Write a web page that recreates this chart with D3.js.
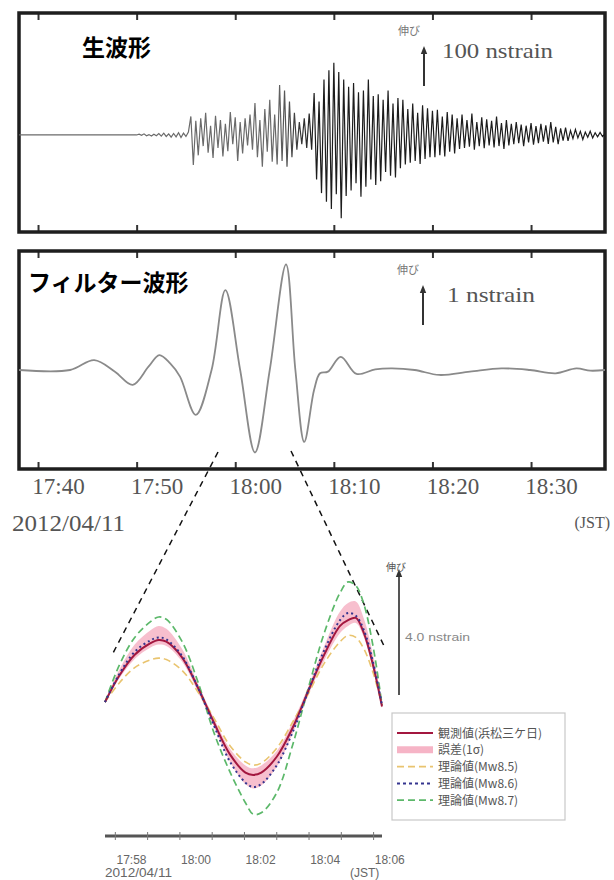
<!DOCTYPE html>
<html>
<head>
<meta charset="utf-8">
<script src="https://cdn.jsdelivr.net/npm/d3@7"></script>
<style>
  body { margin: 0; background: #fff; }
  svg { display: block; }
  .serif { font-family: "Liberation Serif", "DejaVu Serif", serif; }
  .jp { font-family: "Noto Sans CJK JP", "Noto Sans", sans-serif; }
</style>
</head>
<body>
<div id="chart"></div>
<script>
// upper panels: minutes after 17:40
const tickMins = [0, 10, 20, 30, 40, 50];
const tickLabels = ['17:40', '17:50', '18:00', '18:10', '18:20', '18:30'];

// raw strain (nstrain), one value every 15 s starting 17:50
const rawStart = 10;
const rawStep = 0.25;
const rawVals = [
  0, 2, -1, 3, -2, 1, -3, 2, -2, 4, -3, 5, -4, 3, -6, 4, -5, 6, -7, 5,
  -4, 8, 50, -81,
  38, -55, 45, -30, 60, -48, 25, -62, 52, -35, 40, -58, 30, -44, 62, -25, 48, -70, 35, -50, 45, -28, 55, -40,
  86, -60, 40, -86, 70, -45, 95, -72, 55, -80, 135, -70, 120, -86, 90, -60,
  60, -40, 35, -25, 45, -35, 58, -40,
  113, -120, 90, -157, 150, -180, 175, -200, 195, -160, 170, -225,
  150, -165, 130, -150, 140, -130, 115, -167, 120, -140, 150, -120, 105, -135,
  110, -125, 95, -100, 120, -110, 85, -115, 100, -90,
  95, -80, 70, -75, 85, -70, 60, -78, 80, -65, 72, -60, 65,
  -60, 68, -55, 50, -58, 62, -45, 55, -50,
  45, -38, 55, -35, 40, -32, 58, -40, 35, -30, 48, -36, 42, -28, 38, -34, 50, -30, 32, -38, 40, -28,
  30, -25, 35, -22, 28, -30, 25, -20, 32, -26, 24, -22, 30, -18, 26, -24, 35, -20, 22, -25, 18, -15, 20, -16,
  12, -10, 15, -8, 10, -12, 8, -6, 10, -8, 6, -5, 7, -4, 3
];

// filtered strain (nstrain)
const filtT = [-1.93, 3.25, 5.7, 7.8, 9.6, 11.2, 12.3, 13.4, 14.4, 16.0, 17.6, 19.0, 20.5, 22.0, 23.5, 25.15,
  26.1, 27.0, 28.0, 28.6, 29.4, 30.7, 32.3, 34.2, 35.9, 38.2, 40.7, 43.8, 47.0, 49.9, 52.5, 54.6, 56.0, 57.5];
const filtV = [0, 0, 0.3, -0.05, -0.45, 0.1, 0.45, 0.2, -0.2, -1.36, 0, 2.42, 0, -2.5, 0, 3.2,
  0, -2.18, -0.6, -0.1, -0.05, 0.4, -0.12, 0.02, 0.05, 0, -0.15, -0.05, 0.05, 0, -0.1, 0.05, -0.02, 0];

// zoomed comparison: minutes after 18:00
const zoomT = [-2.82, -2.39, -1.90, -1.41, -1.16, -0.92, -0.43, 0.06, 0.55, 1.04, 1.53, 1.77,
  2.02, 2.50, 2.99, 3.48, 3.97, 4.46, 4.71, 4.95, 5.20, 5.49, 5.76];
const obsV = [0.1, 1.0, 1.75, 2.15, 2.26, 2.2, 1.65, 0.6, -0.6, -1.7, -2.35, -2.43,
  -2.35, -1.8, -0.8, 0.5, 1.75, 2.75, 2.95, 3.03, 2.5, 1.35, -0.05];
const errHi = [0.15, 1.2, 2.1, 2.6, 2.75, 2.65, 1.95, 0.75, -0.45, -1.5, -2.1, -2.2,
  -2.1, -1.6, -0.6, 0.65, 2.05, 3.25, 3.55, 3.6, 3.0, 1.7, 0.05];
const errLo = [0.05, 0.9, 1.6, 2.0, 2.1, 2.05, 1.5, 0.45, -0.75, -1.95, -2.75, -2.9,
  -2.8, -2.15, -1.0, 0.35, 1.55, 2.5, 2.75, 2.85, 2.35, 1.2, -0.1];
const mw85V = [0.1, 0.75, 1.3, 1.57, 1.63, 1.58, 1.2, 0.45, -0.45, -1.4, -1.98, -2.09,
  -2.02, -1.5, -0.6, 0.4, 1.45, 2.2, 2.42, 2.35, 1.95, 1.1, 0.0];
const mw86V = [0.1, 1.05, 1.85, 2.25, 2.35, 2.28, 1.7, 0.6, -0.7, -1.95, -2.7, -2.85,
  -2.75, -2.1, -0.95, 0.5, 1.9, 2.95, 3.2, 3.1, 2.6, 1.45, 0.0];
const mw87V = [0.1, 1.35, 2.35, 2.9, 3.06, 2.98, 2.2, 0.8, -0.95, -2.3, -3.4, -3.8,
  -3.75, -3.05, -1.4, 0.6, 2.5, 3.9, 4.28, 4.15, 3.5, 2.0, 0.0];
const zoomTickMins = [-2.5, -1.5, -0.5, 0.5, 1.5, 2.5, 3.5, 4.5, 5.5];
const zoomLabelMins = [-2, 0, 2, 4, 6];
const zoomLabels = ['17:58', '18:00', '18:02', '18:04', '18:06'];
const legendNames = ['観測値(浜松三ケ日)', '誤差(1σ)', '理論値(Mw8.5)', '理論値(Mw8.6)', '理論値(Mw8.7)'];

const w = 614;
const h = 880;

const svg = d3.select('#chart')
  .append('svg')
  .attr('width', w)
  .attr('height', h);

svg.append('rect').attr('width', w).attr('height', h).attr('fill', '#fff');

const defs = svg.append('defs');
defs.append('marker')
  .attr('id', 'head')
  .attr('viewBox', '0 0 10 10')
  .attr('refX', 5).attr('refY', 5)
  .attr('markerWidth', 4).attr('markerHeight', 5)
  .attr('orient', 'auto')
  .append('path')
  .attr('d', 'M0,1 L10,5 L0,9 Z')
  .attr('fill', '#333');

// ---------- upper panels ----------
const xTop = d3.scaleLinear().domain([-1.93, 57.5]).range([19, 605]);
const yRaw = d3.scaleLinear().domain([-262, 332]).range([232, 12]);
const yFilt = d3.scaleLinear().domain([-3.0, 3.606]).range([469, 251]);

// early arrivals print lighter than the main shaking
const grad = defs.append('linearGradient')
  .attr('id', 'rawInk')
  .attr('gradientUnits', 'userSpaceOnUse')
  .attr('x1', xTop(24)).attr('x2', xTop(28)).attr('y1', 0).attr('y2', 0);
grad.append('stop').attr('offset', 0).attr('stop-color', '#6a6a6a');
grad.append('stop').attr('offset', 1).attr('stop-color', '#1c1c1c');

const addPanel = (id, top, bottom) => {
  defs.append('clipPath').attr('id', id)
    .append('rect')
    .attr('x', xTop.range()[0]).attr('y', top)
    .attr('width', xTop.range()[1] - xTop.range()[0]).attr('height', bottom - top);

  const g = svg.append('g');
  // inward ticks on top and bottom borders
  g.append('g')
    .attr('transform', 'translate(0,' + top + ')')
    .call(d3.axisTop(xTop).tickValues(tickMins).tickSize(-7).tickFormat(''))
    .call(s => s.select('.domain').remove())
    .call(s => s.selectAll('line').attr('stroke', '#333').attr('stroke-width', 2));
  g.append('g')
    .attr('transform', 'translate(0,' + bottom + ')')
    .call(d3.axisBottom(xTop).tickValues(tickMins).tickSize(-7).tickFormat(''))
    .call(s => s.select('.domain').remove())
    .call(s => s.selectAll('line').attr('stroke', '#333').attr('stroke-width', 2));

  g.append('rect')
    .attr('x', xTop.range()[0]).attr('y', top)
    .attr('width', xTop.range()[1] - xTop.range()[0]).attr('height', bottom - top)
    .attr('fill', 'none')
    .attr('stroke', '#1e1e1e')
    .attr('stroke-width', 3.5);
  return g;
};

const rawPts = [[xTop.domain()[0], 0]].concat(rawVals.map((v, i) => [rawStart + i * rawStep, v]));
addPanel('clipRaw', 13, 232);
svg.append('path')
  .datum(rawPts)
  .attr('clip-path', 'url(#clipRaw)')
  .attr('fill', 'none')
  .attr('stroke', 'url(#rawInk)')
  .attr('stroke-width', 1.2)
  .attr('d', d3.line().x(d => xTop(d[0])).y(d => yRaw(d[1])));

addPanel('clipFilt', 251, 469);
svg.append('path')
  .datum(filtT.map((t, i) => [t, filtV[i]]))
  .attr('clip-path', 'url(#clipFilt)')
  .attr('fill', 'none')
  .attr('stroke', '#8a8a8a')
  .attr('stroke-width', 1.8)
  .attr('d', d3.line().curve(d3.curveCatmullRom.alpha(0.5)).x(d => xTop(d[0])).y(d => yFilt(d[1])));

// time labels under the filtered panel
const timeAxis = svg.append('g')
  .attr('transform', 'translate(0,469)')
  .call(d3.axisBottom(xTop).tickValues(tickMins).tickSize(0).tickFormat((d, i) => tickLabels[i]));
timeAxis.select('.domain').remove();
timeAxis.selectAll('text')
  .attr('class', 'serif')
  .attr('font-size', 23)
  .attr('fill', '#555')
  .attr('dx', 20)
  .attr('y', 25)
  .attr('dy', null);

svg.append('text').attr('class', 'serif')
  .attr('x', 12).attr('y', 531)
  .attr('font-size', 23).attr('fill', '#555')
  .attr('textLength', 113).attr('lengthAdjust', 'spacingAndGlyphs')
  .text('2012/04/11');
svg.append('text').attr('class', 'serif')
  .attr('x', 610).attr('y', 528)
  .attr('text-anchor', 'end')
  .attr('font-size', 16).attr('fill', '#555')
  .text('(JST)');

// panel titles
svg.append('text').attr('class', 'jp')
  .attr('x', 82).attr('y', 56)
  .attr('font-size', 23).attr('font-weight', 'bold')
  .text('生波形');
svg.append('text').attr('class', 'jp')
  .attr('x', 28).attr('y', 291)
  .attr('font-size', 23).attr('font-weight', 'bold')
  .text('フィルター波形');

// scale bars
const scaleBar = (x, y0, y1, label, lx, ly, len) => {
  svg.append('text').attr('class', 'jp')
    .attr('x', x - 26).attr('y', y1 - 15)
    .attr('font-size', 11).attr('fill', '#777')
    .text('伸び');
  svg.append('line')
    .attr('x1', x).attr('x2', x)
    .attr('y1', y0).attr('y2', y1)
    .attr('stroke', '#333').attr('stroke-width', 2)
    .attr('marker-end', 'url(#head)');
  svg.append('text').attr('class', 'serif')
    .attr('x', lx).attr('y', ly)
    .attr('font-size', 21).attr('fill', '#555')
    .attr('textLength', len).attr('lengthAdjust', 'spacingAndGlyphs')
    .text(label);
};
scaleBar(424, 86, 50, '100 nstrain', 442, 58, 111);
scaleBar(423, 325, 289, '1 nstrain', 447, 302, 88);

// ---------- zoomed comparison ----------
const xZoom = d3.scaleLinear().domain([-2.82, 5.76]).range([105, 382]);
const yZoom = d3.scaleLinear().domain([-4.5, 4.5]).range([834.4, 575.6]);

// connectors from the filtered trace down to the zoom window
const connectors = [[[218, 452], [112, 655]], [[291, 451], [385, 648]]];
svg.selectAll('.conn')
  .data(connectors)
  .enter()
  .append('line')
  .attr('class', 'conn')
  .attr('x1', d => d[0][0]).attr('y1', d => d[0][1])
  .attr('x2', d => d[1][0]).attr('y2', d => d[1][1])
  .attr('stroke', '#111').attr('stroke-width', 1.5)
  .attr('stroke-dasharray', '6,5');

svg.append('path')
  .datum(zoomT.map((t, i) => [t, errLo[i], errHi[i]]))
  .attr('fill', '#f6b4c6')
  .attr('fill-opacity', 0.85)
  .attr('d', d3.area().curve(d3.curveCatmullRom).x(d => xZoom(d[0])).y0(d => yZoom(d[1])).y1(d => yZoom(d[2])));

const series = [
  { vals: mw85V, color: '#e9c46f', width: 1.6, dash: '7,4' },
  { vals: mw87V, color: '#5cb86a', width: 1.7, dash: '7,4' },
  { vals: obsV, color: '#a3173f', width: 2, dash: null },
  { vals: mw86V, color: '#35358f', width: 2, dash: '2,3' }
];
const zoomLine = d3.line().curve(d3.curveCatmullRom).x(d => xZoom(d[0])).y(d => yZoom(d[1]));
series.forEach(s => {
  svg.append('path')
    .datum(zoomT.map((t, i) => [t, s.vals[i]]))
    .attr('fill', 'none')
    .attr('stroke', s.color)
    .attr('stroke-width', s.width)
    .attr('stroke-dasharray', s.dash)
    .attr('d', zoomLine);
});

// time axis of the zoom window
svg.append('line')
  .attr('x1', xZoom(-2.82)).attr('x2', xZoom(5.76))
  .attr('y1', 836).attr('y2', 836)
  .attr('stroke', '#555').attr('stroke-width', 3);
svg.selectAll('.ztick')
  .data(zoomTickMins)
  .enter()
  .append('line')
  .attr('class', 'ztick')
  .attr('x1', d => xZoom(d)).attr('x2', d => xZoom(d))
  .attr('y1', 832).attr('y2', 840)
  .attr('stroke', '#777').attr('stroke-width', 1);
svg.selectAll('.zlab')
  .data(zoomLabelMins)
  .enter()
  .append('text')
  .attr('class', 'zlab')
  .attr('x', d => xZoom(d))
  .attr('y', 864)
  .attr('text-anchor', 'middle')
  .attr('font-family', 'Liberation Sans, Arial, sans-serif')
  .attr('font-size', 12)
  .attr('fill', '#666')
  .text((d, i) => zoomLabels[i]);
svg.append('text')
  .attr('x', 105).attr('y', 877)
  .attr('font-family', 'Liberation Sans, Arial, sans-serif')
  .attr('font-size', 12).attr('fill', '#666')
  .attr('textLength', 67).attr('lengthAdjust', 'spacingAndGlyphs')
  .text('2012/04/11');
svg.append('text')
  .attr('x', 350).attr('y', 877)
  .attr('font-family', 'Liberation Sans, Arial, sans-serif')
  .attr('font-size', 12).attr('fill', '#666')
  .text('(JST)');

// 4.0 nstrain scale bar
svg.append('line')
  .attr('x1', 399).attr('x2', 399)
  .attr('y1', 695).attr('y2', 573)
  .attr('stroke', '#555').attr('stroke-width', 2)
  .attr('marker-end', 'url(#head)');
svg.append('text').attr('class', 'jp')
  .attr('x', 386).attr('y', 571)
  .attr('font-size', 10).attr('fill', '#555')
  .text('伸び');
svg.append('text')
  .attr('x', 405).attr('y', 641)
  .attr('font-family', 'Liberation Sans, Arial, sans-serif')
  .attr('font-size', 11).attr('fill', '#888')
  .attr('textLength', 65).attr('lengthAdjust', 'spacingAndGlyphs')
  .text('4.0 nstrain');

// legend
const legend = svg.append('g').attr('transform', 'translate(392,713)');
legend.append('rect')
  .attr('width', 173).attr('height', 107)
  .attr('fill', '#fff')
  .attr('stroke', '#c8c8c8').attr('stroke-width', 1.2);
const legendStyles = [
  { color: '#a3173f', width: 2, dash: null },
  { color: '#f6b4c6', width: 7, dash: null },
  { color: '#e9c46f', width: 1.6, dash: '7,4' },
  { color: '#35358f', width: 2, dash: '3,3' },
  { color: '#5cb86a', width: 1.7, dash: '7,4' }
];
const rows = legend.selectAll('.row')
  .data(legendNames)
  .enter()
  .append('g')
  .attr('class', 'row')
  .attr('transform', (d, i) => 'translate(0,' + (20 + i * 16.8) + ')');
rows.append('line')
  .attr('x1', 5).attr('x2', 41)
  .attr('stroke', (d, i) => legendStyles[i].color)
  .attr('stroke-width', (d, i) => legendStyles[i].width)
  .attr('stroke-dasharray', (d, i) => legendStyles[i].dash);
rows.append('text')
  .attr('class', 'jp')
  .attr('x', 46).attr('y', 4.5)
  .attr('font-size', 12).attr('fill', '#555')
  .text(d => d);
</script>
</body>
</html>
